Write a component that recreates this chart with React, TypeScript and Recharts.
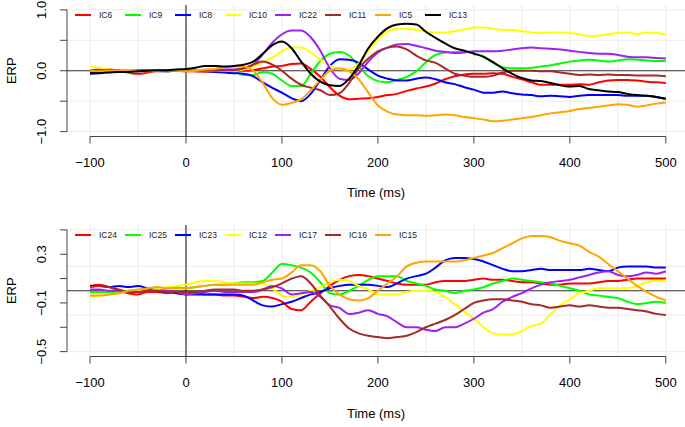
import React from "react";
import {
  CartesianGrid,
  Line,
  LineChart,
  ReferenceLine,
  XAxis,
  YAxis,
} from "recharts";

// time axis (ms)
const TIMES = [
  -100, -90, -80, -70, -60, -50, -40, -30, -20, -10,
  0, 10, 20, 30, 40, 50, 60, 70, 80, 90,
  100, 110, 120, 130, 140, 150, 160, 170, 180, 190,
  200, 210, 220, 230, 240, 250, 260, 270, 280, 290,
  300, 310, 320, 330, 340, 350, 360, 370, 380, 390,
  400, 410, 420, 430, 440, 450, 460, 470, 480, 490,
  500,
];
const X_TICKS = [-100, 0, 100, 200, 300, 400, 500];

// ---- top panel
const IC6 = [
  0.0, 0.02, 0.02, 0.0, -0.03, -0.05, -0.03, 0.0, 0.01, 0.0,
  0.0, -0.01, -0.02, -0.01, 0.0, 0.0, 0.0, 0.01, 0.04, 0.07,
  0.08, 0.11, 0.12, 0.03, -0.1, -0.27, -0.41, -0.47, -0.46, -0.45,
  -0.43, -0.4, -0.38, -0.33, -0.29, -0.26, -0.21, -0.14, -0.09, -0.06,
  -0.05, -0.05, -0.04, -0.05, -0.1, -0.14, -0.19, -0.23, -0.23, -0.23,
  -0.23, -0.22, -0.23, -0.19, -0.16, -0.15, -0.15, -0.16, -0.18, -0.19,
  -0.2,
];
const IC9 = [
  -0.02, -0.01, 0.0, 0.0, -0.01, 0.0, 0.01, 0.0, 0.0, 0.0,
  0.0, 0.0, 0.0, -0.01, 0.0, -0.01, -0.07, -0.07, -0.02, -0.05,
  -0.16, -0.25, -0.25, -0.05, 0.16, 0.28, 0.31, 0.25, 0.08, -0.09,
  -0.17, -0.19, -0.15, -0.1, -0.01, 0.14, 0.26, 0.3, 0.31, 0.31,
  0.29, 0.23, 0.13, 0.06, 0.04, 0.04, 0.05, 0.07, 0.09, 0.12,
  0.15, 0.17, 0.18, 0.17, 0.15, 0.17, 0.19, 0.18, 0.17, 0.16,
  0.16,
];
const IC8 = [
  -0.02, -0.02, -0.01, 0.0, -0.01, 0.0, 0.0, -0.01, -0.01, 0.0,
  0.0, 0.0, -0.01, -0.02, -0.03, -0.04, -0.05, -0.09, -0.19, -0.28,
  -0.36, -0.45, -0.5, -0.38, -0.15, 0.08, 0.19, 0.18, 0.13, 0.02,
  -0.08, -0.13, -0.16, -0.16, -0.13, -0.11, -0.14, -0.19, -0.22, -0.27,
  -0.31, -0.36, -0.36, -0.34, -0.37, -0.39, -0.4, -0.42, -0.41, -0.42,
  -0.43, -0.41, -0.4, -0.4, -0.4, -0.4, -0.41, -0.41, -0.41, -0.43,
  -0.46,
];
const IC10 = [
  0.07, 0.05, 0.02, 0.0, -0.01, 0.0, 0.0, -0.01, 0.0, 0.0,
  0.0, 0.0, -0.01, 0.0, 0.0, 0.0, 0.02, 0.06, 0.14, 0.22,
  0.32, 0.38, 0.38, 0.3, 0.18, 0.08, 0.03, 0.02, 0.12, 0.32,
  0.52, 0.64, 0.69, 0.69, 0.67, 0.65, 0.63, 0.63, 0.65, 0.68,
  0.71, 0.71, 0.69, 0.67, 0.67, 0.65, 0.63, 0.62, 0.63, 0.63,
  0.62, 0.6, 0.57, 0.58, 0.6, 0.62, 0.63, 0.6, 0.63, 0.62,
  0.6,
];
const IC22 = [
  0.0, 0.0, 0.01, 0.0, 0.0, -0.01, 0.0, 0.0, 0.0, 0.0,
  0.0, 0.0, 0.01, 0.02, 0.02, 0.02, 0.04, 0.1, 0.27, 0.46,
  0.6, 0.66, 0.66, 0.55, 0.33, 0.04, -0.13, -0.15, -0.04, 0.15,
  0.3, 0.38, 0.43, 0.44, 0.41, 0.37, 0.33, 0.31, 0.29, 0.3,
  0.32, 0.32, 0.32, 0.33, 0.35, 0.37, 0.38, 0.37, 0.36, 0.35,
  0.33, 0.31, 0.29, 0.28, 0.28, 0.26, 0.23, 0.22, 0.22, 0.21,
  0.2,
];
const IC11 = [
  0.0, 0.0, 0.01, 0.0, 0.0, 0.01, 0.0, 0.0, -0.01, 0.0,
  -0.01, -0.01, 0.0, 0.0, 0.01, 0.01, 0.04, 0.1, 0.15, 0.1,
  0.0, -0.13, -0.23, -0.28, -0.32, -0.4, -0.37, -0.2, 0.04, 0.2,
  0.32, 0.38, 0.4, 0.35, 0.25, 0.17, 0.13, 0.04, -0.05, -0.08,
  -0.1, -0.1, -0.08, -0.03, 0.0, 0.0, 0.0, -0.01, -0.01, -0.03,
  -0.05, -0.07, -0.06, -0.07, -0.06, -0.07, -0.07, -0.08, -0.08, -0.08,
  -0.09,
];
const IC5 = [
  0.0, -0.01, 0.0, 0.0, 0.01, 0.0, -0.01, 0.0, 0.01, 0.0,
  -0.01, 0.0, 0.02, 0.03, 0.06, 0.07, 0.07, 0.0, -0.2, -0.45,
  -0.56, -0.53, -0.47, -0.32, -0.15, 0.0, 0.04, -0.01, -0.14, -0.36,
  -0.57, -0.67, -0.72, -0.73, -0.73, -0.74, -0.73, -0.72, -0.73, -0.76,
  -0.78, -0.8, -0.83, -0.82, -0.8, -0.78, -0.76, -0.73, -0.7, -0.68,
  -0.66, -0.63, -0.61, -0.59, -0.57, -0.55, -0.56, -0.59, -0.57, -0.54,
  -0.52,
];
const IC13 = [
  -0.05, -0.04, -0.03, -0.02, -0.02, -0.01, 0.0, 0.01, 0.01, 0.02,
  0.03, 0.05, 0.08, 0.08, 0.07, 0.08, 0.1, 0.15, 0.28, 0.42,
  0.48, 0.37, 0.15, -0.05, -0.18, -0.24, -0.25, -0.13, 0.09, 0.37,
  0.56, 0.7, 0.76, 0.77, 0.76, 0.64, 0.54, 0.45, 0.37, 0.33,
  0.28, 0.23, 0.14, 0.04, -0.05, -0.12, -0.16, -0.17, -0.2, -0.24,
  -0.26, -0.25, -0.3, -0.32, -0.34, -0.35, -0.38, -0.4, -0.41, -0.43,
  -0.46,
];

// ---- bottom panel
const IC24 = [
  0.04, 0.05, 0.03, 0.0, -0.02, -0.03, -0.01, -0.01, -0.02, -0.01,
  -0.01, -0.02, -0.03, -0.03, -0.04, -0.04, -0.05, -0.06, -0.05, -0.06,
  -0.09, -0.15, -0.16, -0.09, -0.02, 0.04, 0.09, 0.12, 0.13, 0.12,
  0.1, 0.08, 0.06, 0.05, 0.05, 0.05, 0.07, 0.08, 0.08, 0.08,
  0.09, 0.1, 0.09, 0.09, 0.08, 0.07, 0.07, 0.06, 0.05, 0.05,
  0.06, 0.06, 0.06, 0.07, 0.08, 0.08, 0.09, 0.1, 0.1, 0.1,
  0.1,
];
const IC25 = [
  -0.01, -0.01, -0.01, -0.01, 0.0, 0.0, 0.01, 0.01, 0.02, 0.03,
  0.02, 0.03, 0.04, 0.05, 0.05, 0.06, 0.07, 0.07, 0.08, 0.15,
  0.22, 0.21, 0.19, 0.15, 0.07, -0.02, -0.03, 0.0, 0.04, 0.09,
  0.12, 0.12, 0.12, 0.08, 0.06, 0.04, 0.01, 0.0, -0.02, 0.0,
  0.01, 0.03, 0.06, 0.08, 0.1, 0.09, 0.08, 0.07, 0.06, 0.04,
  0.02, 0.0, -0.03, -0.04, -0.05, -0.06, -0.09, -0.11, -0.1, -0.09,
  -0.1,
];
const IC23 = [
  0.04, 0.04, 0.03, 0.04, 0.03, 0.04, 0.02, 0.0, -0.01, -0.02,
  -0.03, -0.03, -0.03, -0.03, -0.03, -0.03, -0.04, -0.08, -0.12, -0.13,
  -0.11, -0.09, -0.06, -0.03, -0.01, 0.02, 0.04, 0.05, 0.05, 0.05,
  0.04, 0.03, 0.06, 0.1, 0.12, 0.14, 0.19, 0.25, 0.27, 0.27,
  0.26, 0.24, 0.21, 0.18, 0.16, 0.16, 0.17, 0.18, 0.17, 0.17,
  0.17, 0.17, 0.18, 0.17, 0.16, 0.19, 0.2, 0.2, 0.2, 0.19,
  0.19,
];
const IC12 = [
  -0.05, -0.04, -0.03, -0.02, -0.01, 0.0, 0.0, 0.01, 0.03, 0.04,
  0.05, 0.07, 0.08, 0.08, 0.07, 0.06, 0.06, 0.06, 0.06, 0.02,
  -0.04, -0.05, -0.03, 0.0, 0.03, 0.07, 0.09, 0.08, 0.04, 0.01,
  -0.03, -0.03, -0.03, -0.01, 0.0, 0.0, -0.01, -0.05, -0.11, -0.17,
  -0.23, -0.3, -0.35, -0.36, -0.36, -0.33, -0.29, -0.27, -0.19, -0.12,
  -0.07, -0.02, 0.0, 0.02, 0.02, 0.02, 0.02, 0.04, 0.07, 0.08,
  0.08,
];
const IC17 = [
  0.01, 0.01, 0.0, 0.0, -0.01, -0.01, 0.0, 0.0, 0.0, -0.01,
  -0.03, -0.02, -0.01, 0.0, -0.01, -0.01, -0.01, -0.01, 0.01, 0.04,
  0.02, -0.03, -0.02, -0.01, -0.05, -0.12, -0.14, -0.19, -0.18, -0.16,
  -0.19, -0.21, -0.26, -0.3, -0.3, -0.32, -0.33, -0.3, -0.3, -0.27,
  -0.23, -0.18, -0.15, -0.09, -0.05, -0.02, 0.02, 0.05, 0.07, 0.08,
  0.09, 0.11, 0.13, 0.15, 0.16, 0.13, 0.12, 0.13, 0.15, 0.14,
  0.16,
];
const IC16 = [
  0.03, 0.04, 0.03, 0.01, -0.01, -0.01, 0.0, 0.0, -0.01, -0.01,
  -0.01, -0.01, 0.0, 0.01, 0.01, 0.01, 0.0, 0.0, 0.01, 0.03,
  0.06, 0.1, 0.12, 0.06, -0.04, -0.13, -0.23, -0.31, -0.35, -0.37,
  -0.38, -0.39, -0.38, -0.37, -0.34, -0.3, -0.27, -0.24, -0.2, -0.15,
  -0.1, -0.08, -0.07, -0.07, -0.08, -0.09, -0.11, -0.12, -0.14, -0.13,
  -0.12, -0.13, -0.12, -0.13, -0.14, -0.14, -0.15, -0.16, -0.17, -0.19,
  -0.2,
];
const IC15 = [
  -0.04, -0.04, -0.03, -0.02, 0.0, 0.01, 0.02, 0.03, 0.02, 0.02,
  0.02, 0.03, 0.04, 0.05, 0.05, 0.05, 0.05, 0.05, 0.07, 0.09,
  0.1, 0.15, 0.21, 0.21, 0.16, 0.04, -0.03, -0.07, -0.08, -0.06,
  0.0, 0.06, 0.12, 0.2, 0.23, 0.24, 0.24, 0.24, 0.24, 0.25,
  0.27, 0.29, 0.31, 0.35, 0.39, 0.43, 0.45, 0.45, 0.44, 0.41,
  0.39, 0.37, 0.32, 0.28, 0.22, 0.16, 0.1, 0.04, -0.01, -0.05,
  -0.08,
];

type Series = { name: string; values: number[]; color: string };

const TOP_SERIES: Series[] = [
  { name: "IC6", values: IC6, color: "#ff0000" },
  { name: "IC9", values: IC9, color: "#00ff00" },
  { name: "IC8", values: IC8, color: "#0000ff" },
  { name: "IC10", values: IC10, color: "#ffff00" },
  { name: "IC22", values: IC22, color: "#a020f0" },
  { name: "IC11", values: IC11, color: "#a52a2a" },
  { name: "IC5", values: IC5, color: "#ffa500" },
  { name: "IC13", values: IC13, color: "#000000" },
];

const BOTTOM_SERIES: Series[] = [
  { name: "IC24", values: IC24, color: "#ff0000" },
  { name: "IC25", values: IC25, color: "#00ff00" },
  { name: "IC23", values: IC23, color: "#0000ff" },
  { name: "IC12", values: IC12, color: "#ffff00" },
  { name: "IC17", values: IC17, color: "#a020f0" },
  { name: "IC16", values: IC16, color: "#a52a2a" },
  { name: "IC15", values: IC15, color: "#ffa500" },
];

const toRows = (series: Series[]) =>
  TIMES.map((t, i) => {
    const row: Record<string, number> = { t };
    series.forEach((s) => {
      row[s.name] = s.values[i];
    });
    return row;
  });

const fmt = (v: number) => (v < 0 ? "\u2212" : "") + Math.abs(v).toFixed(1);
const fmtX = (v: number) => (v < 0 ? "\u2212" : "") + Math.abs(v);

function RotatedTick(props: any) {
  const { y, payload, labels } = props;
  if (!labels.includes(payload.value)) return <g />;
  return (
    <text
      x={46}
      y={y}
      transform={`rotate(-90, 46, ${y})`}
      textAnchor="middle"
      fontSize={13}
      fill="#000"
    >
      {fmt(payload.value)}
    </text>
  );
}

type PanelProps = {
  series: Series[];
  height: number;
  top: number;
  xAxisHeight: number;
  yMax: number;
  yTicks: number[];
  yLabels: number[];
  gridY: number[];
  timeY: number;
};

function Legend({ series }: { series: Series[] }) {
  return (
    <div style={{ position: "absolute", left: 0, top: 0 }}>
      {series.map((s, i) => (
        <div
          key={s.name}
          style={{
            position: "absolute",
            left: 75 + i * 50,
            top: 0,
            display: "flex",
            alignItems: "center",
            height: 10,
            whiteSpace: "nowrap",
          }}
        >
          <span
            style={{
              display: "inline-block",
              width: 16,
              height: 2,
              background: s.color,
              marginRight: 8,
            }}
          />
          <span style={{ fontSize: 8.5, color: "#222" }}>{s.name}</span>
        </div>
      ))}
    </div>
  );
}

function Panel({
  series,
  height,
  top,
  xAxisHeight,
  yMax,
  yTicks,
  yLabels,
  gridY,
  timeY,
}: PanelProps) {
  const data = toRows(series);
  const plotH = height - top - xAxisHeight;
  return (
    <div style={{ position: "relative", width: 685, height }}>
      <LineChart
        width={685}
        height={height}
        data={data}
        margin={{ top, right: 0, bottom: 0, left: 0 }}
      >
        <CartesianGrid
          stroke="#ebebeb"
          horizontalValues={gridY}
          verticalValues={[
            -100, -50, 0, 50, 100, 150, 200, 250, 300, 350, 400, 450, 500,
          ]}
        />
        <XAxis
          dataKey="t"
          type="number"
          domain={[-124, 520]}
          allowDataOverflow
          ticks={X_TICKS}
          tickFormatter={fmtX}
          axisLine={false}
          tickLine={{ stroke: "#444" }}
          tickSize={7}
          tickMargin={14}
          tick={{ fill: "#000", fontSize: 13 }}
          height={xAxisHeight}
          interval={0}
          label={{
            content: () => (
              <text
                x={376}
                y={timeY}
                textAnchor="middle"
                fontSize={13}
                fill="#000"
              >
                Time (ms)
              </text>
            ),
          }}
        />
        <YAxis
          type="number"
          domain={[-yMax, yMax]}
          allowDataOverflow
          ticks={yTicks}
          axisLine={false}
          tickLine={{ stroke: "#444" }}
          tickSize={7}
          width={67}
          interval={0}
          tick={(p: any) => <RotatedTick {...p} labels={yLabels} />}
          label={{
            content: () => (
              <text
                x={0}
                y={0}
                transform={`translate(16, ${top + plotH / 2}) rotate(-90)`}
                textAnchor="middle"
                fontSize={13}
                fill="#000"
              >
                ERP
              </text>
            ),
          }}
        />
        <ReferenceLine
          segment={[
            { x: -100, y: -yMax },
            { x: 500, y: -yMax },
          ]}
          stroke="#444"
          ifOverflow="visible"
        />
        <ReferenceLine
          segment={[
            { x: -124, y: yTicks[0] },
            { x: -124, y: yTicks[yTicks.length - 1] },
          ]}
          stroke="#444"
          ifOverflow="visible"
        />
        <ReferenceLine y={0} stroke="#333" />
        <ReferenceLine x={0} stroke="#111" />
        {series.map((s) => (
          <Line
            key={s.name}
            type="monotone"
            dataKey={s.name}
            stroke={s.color}
            strokeWidth={2}
            dot={false}
            isAnimationActive={false}
          />
        ))}
      </LineChart>
      <div style={{ position: "absolute", left: 0, top: top + 5 }}>
        <Legend series={series} />
      </div>
    </div>
  );
}

export default function App() {
  return (
    <div
      style={{
        position: "absolute",
        left: 0,
        top: 0,
        width: 685,
        height: 427,
        background: "#fff",
        fontFamily: "'Liberation Sans', Arial, sans-serif",
      }}
    >
      <Panel
        series={TOP_SERIES}
        height={215}
        top={5}
        xAxisHeight={78.5}
        yMax={1.08}
        yTicks={[-1, -0.5, 0, 0.5, 1]}
        yLabels={[-1, 0, 1]}
        gridY={[-1, -0.5, 0, 0.5, 1]}
        timeY={197}
      />
      <Panel
        series={BOTTOM_SERIES}
        height={212}
        top={10}
        xAxisHeight={70.5}
        yMax={0.54}
        yTicks={[-0.5, -0.3, -0.1, 0.1, 0.3, 0.5]}
        yLabels={[-0.5, -0.1, 0.3]}
        gridY={[-0.5, -0.2, 0, 0.2, 0.5]}
        timeY={203}
      />
    </div>
  );
}
